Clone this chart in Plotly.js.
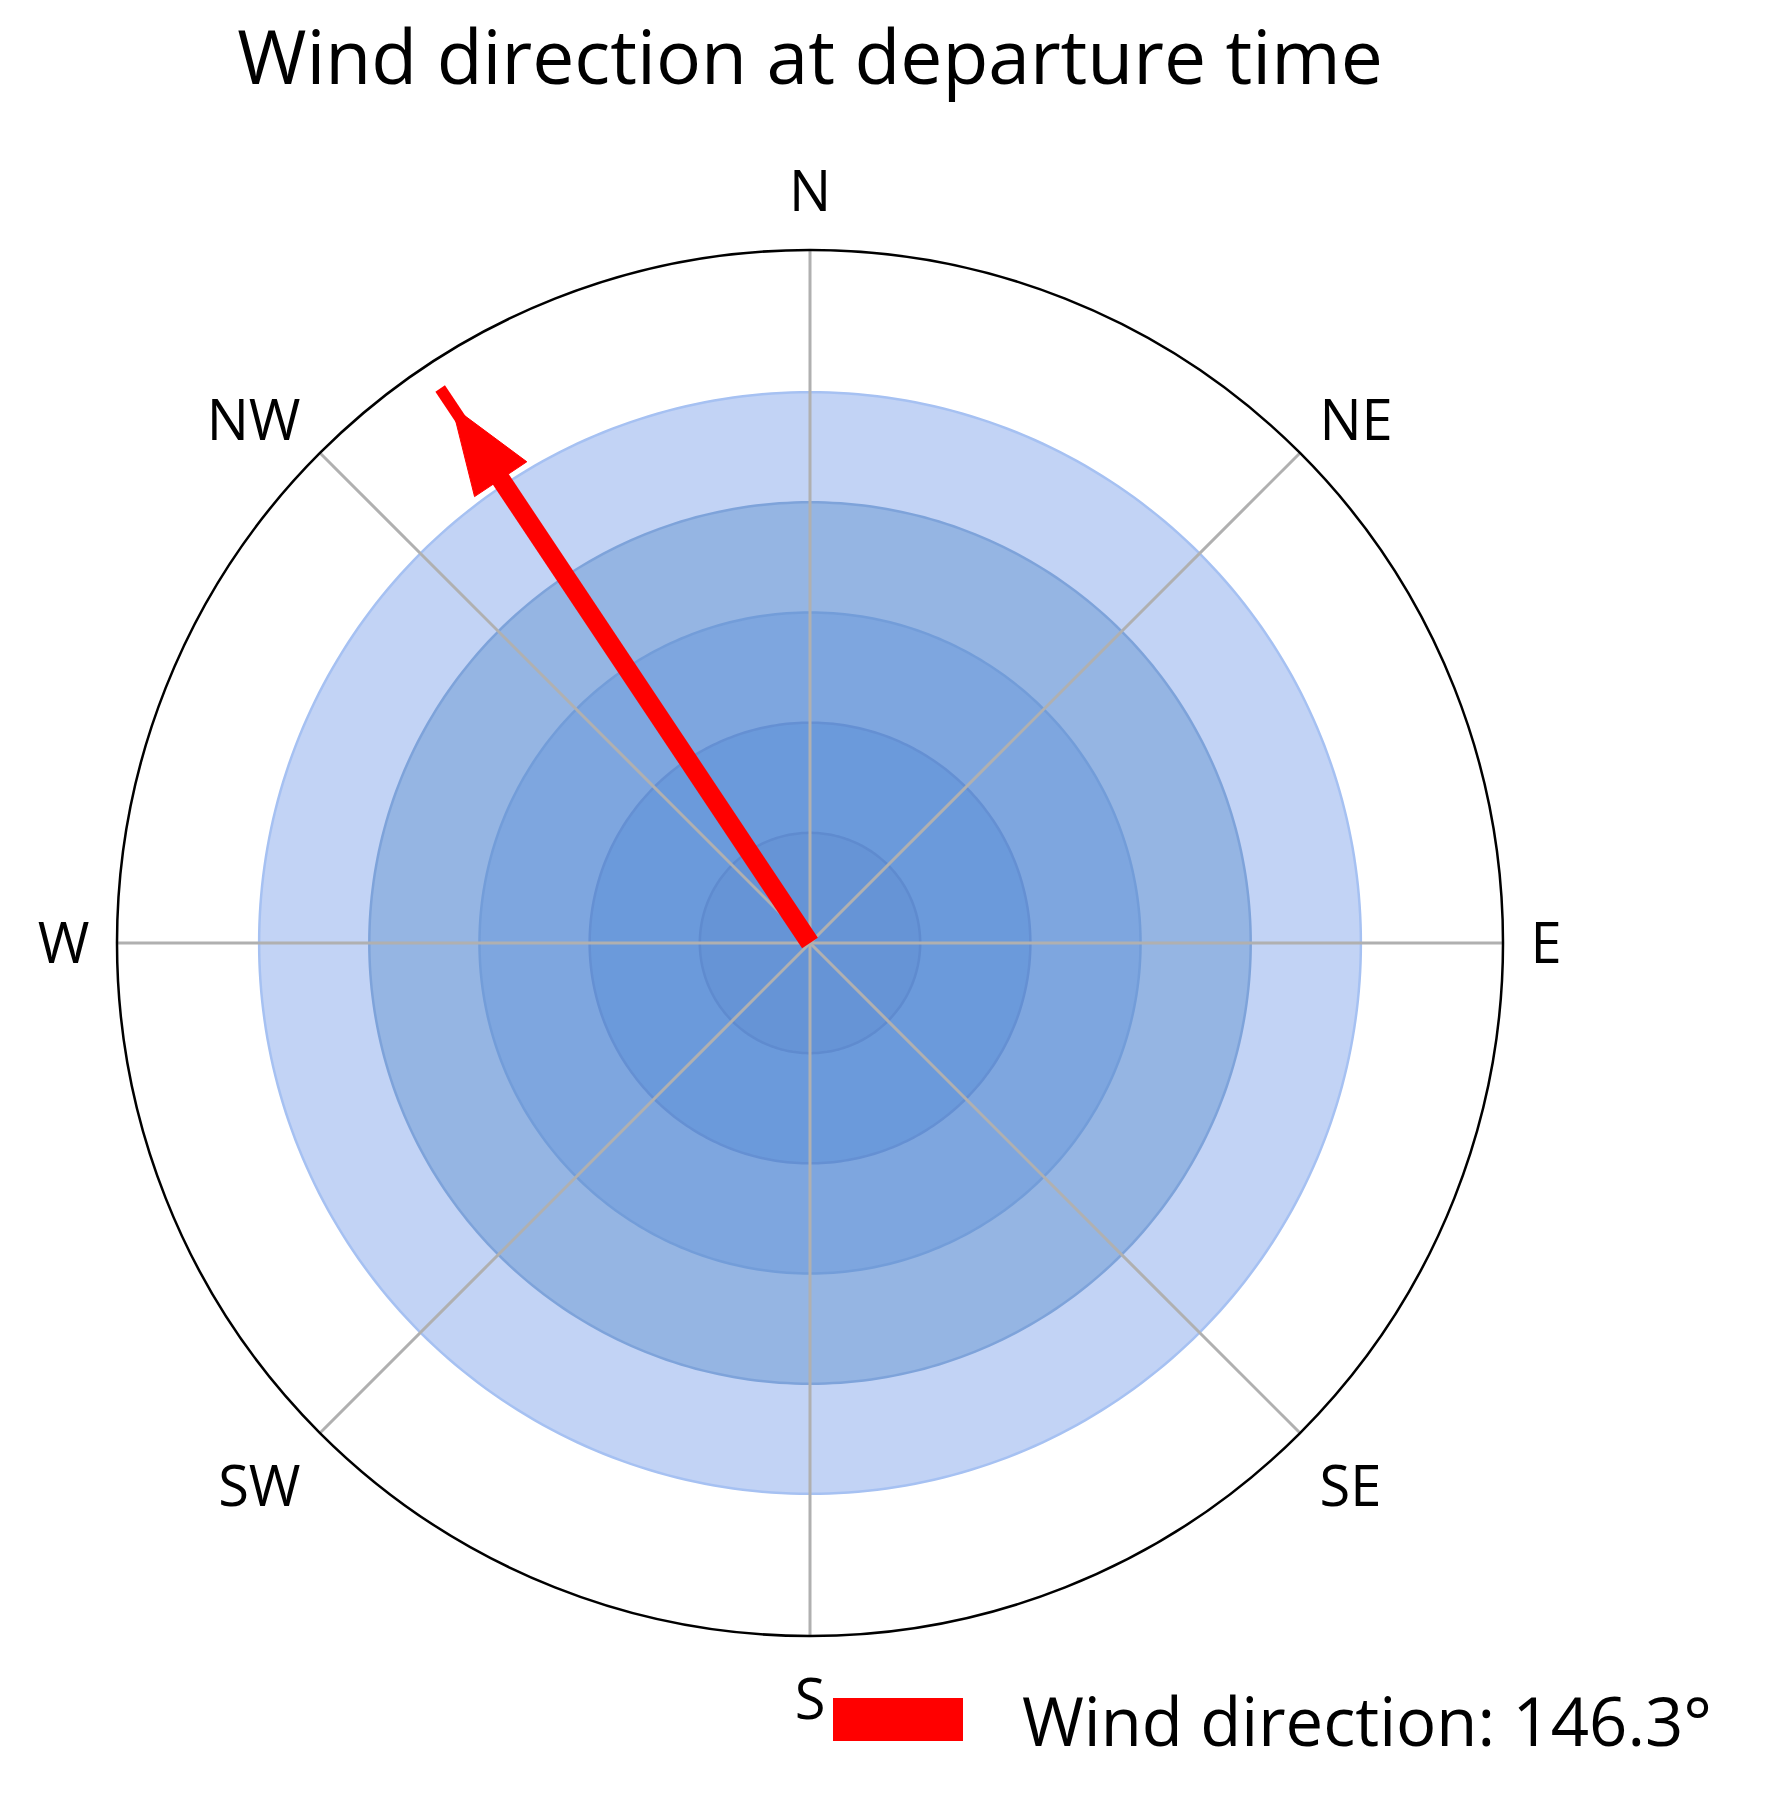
<!DOCTYPE html>
<html>
<head>
<meta charset="utf-8">
<script src="https://cdn.plot.ly/plotly-3.0.1.min.js"></script>
<style>
  html, body { margin: 0; padding: 0; background: #ffffff; }
  #chart { width: 1776px; height: 1818px; }
  /* legend swatch drawn as a wide filled bar, like the reference */
  #chart .legend .legendlines path { stroke-width: 43px !important; stroke-linecap: butt !important; }
  #chart .legend .legendtext { transform: translateX(54px); }
  #chart .legend .scrollbox, #chart .legend { clip-path: none !important; }
</style>
</head>
<body>
<div id="chart"></div>
<script>
// ---- data ----
const directionLabels = ['N', 'NE', 'E', 'SE', 'S', 'SW', 'W', 'NW'];
const directionAngles = [0, 45, 90, 135, 180, 225, 270, 315];
const ringRadii = [1.0, 0.8, 0.6, 0.4, 0.2];
const windDirection = 146.3;          // degrees (direction the wind comes from)
const arrowLength = 1.21;             // radial length of the arrow tip line
const radialMax = 1.258;

// ---- styles ----
const ringFill = ['#c2d3f5', '#95b5e3', '#7ea6df', '#6b9adb', '#6694d6'];
const ringEdge = ['#a6c1f2', '#7ea3da', '#739dd9', '#6590d3', '#5f8bcf'];
const FONT = 'Open Sans, Arial, sans-serif';

const arrowTheta = (windDirection + 180) % 360;

const traces = [];

// filled concentric circles
const circleTheta = [];
for (let a = 0; a <= 360; a += 1) circleTheta.push(a);
ringRadii.forEach((r, i) => {
  traces.push({
    type: 'scatterpolar',
    mode: 'lines',
    r: circleTheta.map(() => r),
    theta: circleTheta,
    fill: 'toself',
    fillcolor: ringFill[i],
    line: { color: ringEdge[i], width: 2.5 },
    hoverinfo: 'skip',
    showlegend: false
  });
});

// spokes (drawn above the fills)
directionAngles.forEach(a => {
  traces.push({
    type: 'scatterpolar',
    mode: 'lines',
    r: [0, radialMax],
    theta: [a, a],
    line: { color: '#b0b0b0', width: 3 },
    hoverinfo: 'skip',
    showlegend: false
  });
});

// arrow shaft
const headApex = 1.171, headBase = 1.012, headHalf = 0.057;
traces.push({
  type: 'scatterpolar',
  mode: 'lines',
  r: [0, 1.06],
  theta: [arrowTheta, arrowTheta],
  line: { color: '#ff0000', width: 19 },
  name: 'Wind direction: ' + windDirection.toFixed(1) + '°',
  hoverinfo: 'skip',
  showlegend: true
});
// thin tip line running through the head
traces.push({
  type: 'scatterpolar',
  mode: 'lines',
  r: [1.05, arrowLength],
  theta: [arrowTheta, arrowTheta],
  line: { color: '#ff0000', width: 11.5 },
  hoverinfo: 'skip',
  showlegend: false
});

// arrow head (derived from the direction)
const baseR = Math.sqrt(headBase * headBase + headHalf * headHalf);
const baseDTheta = Math.atan2(headHalf, headBase) * 180 / Math.PI;
traces.push({
  type: 'scatterpolar',
  mode: 'lines',
  r: [headApex, baseR, baseR, headApex],
  theta: [arrowTheta, arrowTheta + baseDTheta, arrowTheta - baseDTheta, arrowTheta],
  fill: 'toself',
  fillcolor: '#ff0000',
  line: { color: '#ff0000', width: 1 },
  hoverinfo: 'skip',
  showlegend: false
});

const layout = {
  width: 1776,
  height: 1818,
  paper_bgcolor: '#ffffff',
  font: { family: FONT, color: '#000000' },
  margin: { l: 117, r: 273, t: 250, b: 182, pad: 0 },
  title: {
    text: 'Wind direction at departure time',
    font: { family: FONT, size: 75, color: '#000000' },
    xref: 'container', yref: 'container',
    x: 810 / 1776, xanchor: 'center',
    y: 1 - 58 / 1818, yanchor: 'middle'
  },
  polar: {
    domain: { x: [0, 1], y: [0, 1] },
    bgcolor: '#ffffff',
    radialaxis: {
      range: [0, radialMax],
      visible: false,
      showgrid: false,
      showline: false,
      showticklabels: false
    },
    angularaxis: {
      direction: 'clockwise',
      rotation: 90,
      tickmode: 'array',
      tickvals: directionAngles,
      ticktext: directionLabels,
      showgrid: false,
      showline: true,
      linecolor: '#000000',
      linewidth: 2.5,
      ticks: 'outside',
      ticklen: 15,
      tickcolor: 'rgba(0,0,0,0)',
      tickfont: { family: FONT, size: 56, color: '#000000' }
    }
  },
  showlegend: true,
  legend: {
    x: (828 - 117) / 1386,
    xanchor: 'left',
    y: (1636 - 1720) / 1386,
    yanchor: 'middle',
    bgcolor: 'rgba(0,0,0,0)',
    borderwidth: 0,
    itemwidth: 130,
    font: { family: FONT, size: 67, color: '#000000' }
  }
};

Plotly.newPlot('chart', traces, layout, { displayModeBar: false, staticPlot: true });
</script>
</body>
</html>
